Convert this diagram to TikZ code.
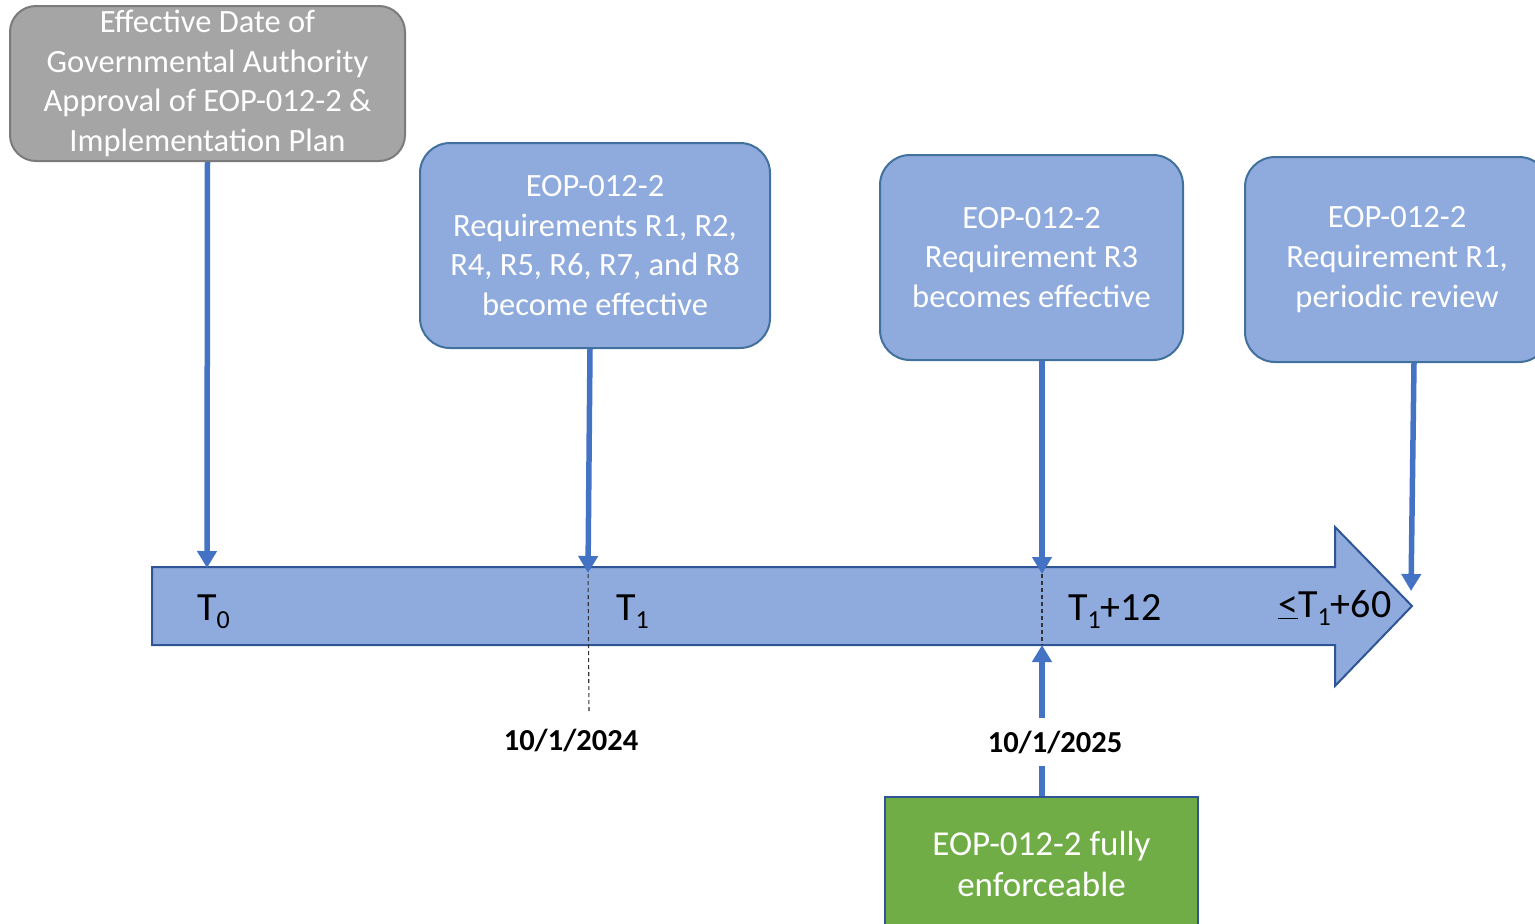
\documentclass[tikz,border=0pt]{standalone}
\usepackage{fontspec}
\setmainfont{Carlito}
\usetikzlibrary{arrows.meta}
\definecolor{grayfill}{HTML}{A5A5A5}
\definecolor{grayline}{HTML}{7B7B7B}
\definecolor{bluefill}{HTML}{8FAADC}
\definecolor{blueline}{HTML}{41719C}
\definecolor{barline}{HTML}{2F5597}
\definecolor{connblue}{HTML}{4472C4}
\definecolor{greenfill}{HTML}{70AD47}
\newcommand{\sub}[1]{\raisebox{-0.22em}{\fontsize{26}{26}\selectfont #1}}
\tikzset{
  boxtxt/.style={text=white, align=center, inner sep=0pt, font=\fontsize{32.5}{39.6}\selectfont},
  graybox/.style={boxtxt, draw=grayline, fill=grayfill, line width=2pt, rounded corners=26pt},
  bluebox/.style={boxtxt, draw=blueline, fill=bluefill, line width=2pt, rounded corners=30pt},
  greenbox/.style={boxtxt, draw=barline, fill=greenfill, line width=2pt, font=\fontsize{35}{41}\selectfont},
  conn/.style={draw=connblue, line width=5.5pt, -{Triangle[width=19pt,length=17pt]}},
  tlabel/.style={anchor=base west, inner sep=0pt, font=\fontsize{40}{40}\selectfont},
  datelabel/.style={inner sep=0pt, font=\bfseries\fontsize{30.5}{30.5}\selectfont},
  guide/.style={draw=black!80, line width=1.1pt, dash pattern=on 4pt off 3pt}
}
\begin{document}
\begin{tikzpicture}[x=1pt,y=-1pt]
\clip (0,0) rectangle (1535,924);
\fill[white] (0,0) rectangle (1535,924);

% timeline bar
\draw[draw=barline, fill=bluefill, line width=2pt, line join=miter]
  (152,567) -- (1335,567) -- (1335,527) -- (1412,606) -- (1335,686) -- (1335,645) -- (152,645) -- cycle;
\coordinate (t0top) at (207,567);
\coordinate (t1top) at (588,567);
\coordinate (t1bot) at (589,713);
\coordinate (t12top) at (1042,567);
\coordinate (t12bot) at (1042,645);
\coordinate (t60) at (1411,591);

% boxes
\node[graybox, minimum width=395pt, minimum height=155pt] (g) at (207.5,83.5)
  {Effective Date of\\Governmental Authority\\Approval of EOP-012-2 \&\\Implementation Plan};
\node[bluebox, minimum width=350pt, minimum height=205pt] (b1) at (595,245.5)
  {EOP-012-2\\Requirements R1, R2,\\R4, R5, R6, R7, and R8\\become effective};
\node[bluebox, minimum width=303pt, minimum height=205pt] (b2) at (1031.5,257.5)
  {EOP-012-2\\Requirement R3\\becomes effective};
\node[bluebox, minimum width=304pt, minimum height=205pt] (b3) at (1397,259.5)
  {EOP-012-2\\Requirement R1,\\periodic review};
\node[greenbox, minimum width=313pt, minimum height=133pt] (gr) at (1041.5,863.5)
  {EOP-012-2 fully\\enforceable};

% guides
\draw[guide] (t1top) -- (t1bot);
\draw[guide] (t12top) -- (t12bot);

% connectors
\draw[conn] (g.south) -- ([yshift=-1pt]t0top);
\draw[conn] ([xshift=-5pt]b1.south) -- ([yshift=-6pt]t1top);
\draw[conn] (b2.south -| t12top) -- ([yshift=-7pt]t12top);
\draw[conn] ([xshift=17pt]b3.south) -- (t60);
\draw[conn] (gr.north -| t12bot) -- (t12bot);

% labels on the bar
\node[tlabel] (l0) at (197,620) {T\sub{0}};
\node[tlabel] (l1) at (616,620) {T\sub{1}};
\node[tlabel] (l12) at (1068,620) {T\sub{1}+12};
\node[tlabel] (l60) at (1278,617) {\underline{<}T\sub{1}+60};

% dates
\node[datelabel] (d1) at (571,740) {10/1/2024};
\node[datelabel, fill=white, inner xsep=2pt, inner ysep=13pt] (d2) at (1055,742) {10/1/2025};
\end{tikzpicture}
\end{document}
